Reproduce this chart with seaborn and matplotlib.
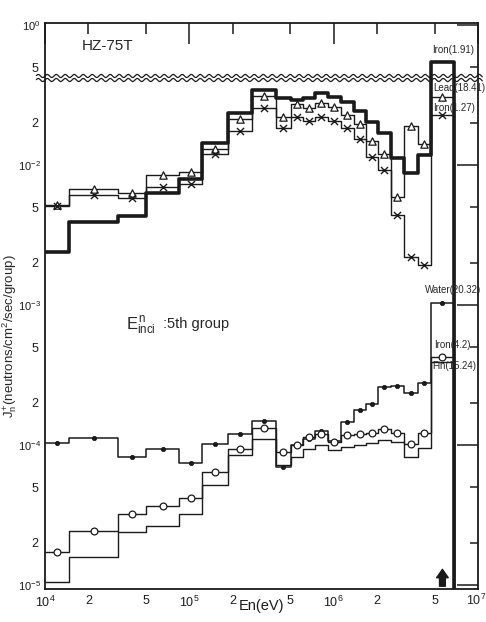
import numpy as np
import matplotlib
matplotlib.use("Agg")
import matplotlib.pyplot as plt
from matplotlib.ticker import FixedLocator, FixedFormatter
import seaborn as sns

# ---------------- data ----------------
# energy group boundaries (eV)
edges = [1.0e4, 1.47e4, 3.21e4, 5.02e4, 8.53e4, 1.23e5, 1.84e5, 2.70e5, 3.96e5,
         5.03e5, 6.09e5, 7.38e5, 9.08e5, 1.12e6, 1.38e6, 1.67e6, 2.02e6, 2.49e6,
         3.06e6, 3.83e6, 4.72e6, 6.81e6]

# upper group of spectra
iron_191 = [2.39e-3, 3.92e-3, 4.33e-3, 6.31e-3, 7.94e-3, 1.435e-2, 2.35e-2, 3.44e-2,
            3.01e-2, 2.91e-2, 3.01e-2, 3.27e-2, 3.06e-2, 2.82e-2, 2.43e-2, 2.03e-2,
            1.69e-2, 1.12e-2, 8.77e-3, 1.18e-2, 5.45e-1]
lead_1841 = [5.18e-3, 6.74e-3, 6.31e-3, 8.49e-3, 8.91e-3, 1.30e-2, 2.13e-2, 3.11e-2,
             2.20e-2, 2.73e-2, 2.55e-2, 2.77e-2, 2.60e-2, 2.28e-2, 1.96e-2, 1.48e-2,
             1.20e-2, 5.91e-3, 1.90e-2, 1.41e-2, 3.06e-2]
iron_127 = [5.09e-3, 6.10e-3, 5.81e-3, 6.97e-3, 7.32e-3, 1.20e-2, 1.75e-2, 2.55e-2,
            1.84e-2, 2.20e-2, 2.06e-2, 2.20e-2, 2.06e-2, 1.84e-2, 1.53e-2, 1.14e-2,
            9.21e-3, 4.40e-3, 2.20e-3, 1.93e-3, 2.28e-2]

# lower group of spectra
water_2032 = [1.033e-4, 1.122e-4, 8.21e-5, 9.36e-5, 7.44e-5, 1.017e-4, 1.20e-4, 1.48e-4,
              6.97e-5, 1.00e-4, 1.10e-4, 1.26e-4, 1.07e-4, 1.46e-4, 1.78e-4, 1.96e-4,
              2.60e-4, 2.64e-4, 2.35e-4, 2.77e-4, 1.03e-3]
iron_42 = [1.72e-5, 2.43e-5, 3.21e-5, 3.66e-5, 4.18e-5, 6.41e-5, 9.36e-5, 1.32e-4,
           8.91e-5, 1.00e-4, 1.14e-4, 1.20e-4, 1.05e-4, 1.18e-4, 1.20e-4, 1.22e-4,
           1.30e-4, 1.22e-4, 1.02e-4, 1.22e-4, 4.25e-4]
fin_1524 = [1.05e-5, 1.58e-5, 2.39e-5, 2.64e-5, 3.21e-5, 5.18e-5, 8.49e-5, 1.10e-4,
            7.19e-5, 8.21e-5, 9.36e-5, 1.00e-4, 9.21e-5, 9.68e-5, 1.00e-4, 1.03e-4,
            1.09e-4, 1.05e-4, 8.21e-5, 9.52e-5, 3.92e-4]

x_major = [1e4, 1e5, 1e6, 1e7]
x_major_labels = [r"$10^{4}$", r"$10^{5}$", r"$10^{6}$", ""]
x_last_label = r"$10^{7}$"
x_minor = [2e4, 5e4, 2e5, 5e5, 2e6, 5e6]
x_minor_labels = ["2", "5", "2", "5", "2", "5"]
y_major = [1e-5, 1e-4, 1e-3, 1e-2, 1e0]
y_major_labels = [r"$10^{-5}$", r"$10^{-4}$", r"$10^{-3}$", r"$10^{-2}$", r"$10^{0}$"]
y_minor = [2e-5, 5e-5, 2e-4, 5e-4, 2e-3, 5e-3, 2e-2, 5e-1]
y_minor_labels = ["2", "5", "2", "5", "2", "5", "2", "5"]

# ---------------- style ----------------
sns.set_theme(style="white")
plt.rcParams["font.family"] = ["Liberation Sans", "DejaVu Sans"]
plt.rcParams["mathtext.fontset"] = "custom"
plt.rcParams["mathtext.rm"] = "Liberation Sans"
plt.rcParams["mathtext.it"] = "Liberation Sans"
plt.rcParams["mathtext.bf"] = "Liberation Sans:bold"

W, H = 486, 622
fig, ax = plt.subplots(figsize=(W / 100, H / 100), dpi=100)
fig.subplots_adjust(left=45 / W, right=478 / W, bottom=1 - 589 / H, top=1 - 23 / H)

# broken log axis: one decade (0.042 .. 0.42) removed
BRK = -1.379
GAP = 1.0


def fwd(y):
    y = np.asarray(y, dtype=float)
    with np.errstate(divide="ignore", invalid="ignore"):
        L = np.log10(np.where(y > 0, y, 1e-300))
    return np.where(L >= BRK + GAP, L - GAP, np.minimum(L, BRK))


def inv(f):
    f = np.asarray(f, dtype=float)
    return np.where(f > BRK, 10 ** (f + GAP), 10 ** f)


ax.set_xscale("log")
ax.set_yscale("function", functions=(fwd, inv))

ybot = 10 ** (-5.029)
ytop = 10 ** (0.014)

centers = [np.sqrt(a * b) for a, b in zip(edges[:-1], edges[1:])]

series = [
    (iron_191, 2.6, None, {}),
    (lead_1841, 1.0, "^", dict(s=28, facecolor="white", edgecolor="k", linewidth=0.9)),
    (iron_127, 1.0, "x", dict(s=26, color="k", linewidth=1.0)),
    (water_2032, 1.1, "o", dict(s=10, color="k", edgecolor="k", linewidth=0.5)),
    (iron_42, 1.0, "o", dict(s=24, facecolor="white", edgecolor="k", linewidth=0.9)),
    (fin_1524, 1.0, None, {}),
]

for vals, lw, mk, mkw in series:
    yy = list(vals) + [vals[-1]]
    sns.lineplot(x=edges, y=yy, drawstyle="steps-post", color="k", lw=lw,
                 estimator=None, sort=False, ax=ax, legend=False)
    ax.vlines(edges[-1], ybot, vals[-1], colors="k", lw=lw)
    if mk is not None:
        sns.scatterplot(x=centers, y=vals, marker=mk, ax=ax, legend=False,
                        zorder=4, **mkw)

ax.set_xlim(edges[0], 1e7)
ax.set_ylim(ybot, ytop)

# ticks
ax.xaxis.set_major_locator(FixedLocator(x_major))
ax.xaxis.set_major_formatter(FixedFormatter(x_major_labels))
ax.xaxis.set_minor_locator(FixedLocator(x_minor))
ax.xaxis.set_minor_formatter(FixedFormatter(x_minor_labels))
ax.yaxis.set_major_locator(FixedLocator(y_major))
ax.yaxis.set_major_formatter(FixedFormatter(y_major_labels))
ax.yaxis.set_minor_locator(FixedLocator(y_minor))
ax.yaxis.set_minor_formatter(FixedFormatter(y_minor_labels))

ax.tick_params(which="both", direction="in", top=True, right=True,
               width=1.1, color="k", labelsize=9, labelcolor="k")
ax.tick_params(which="major", length=15)
ax.tick_params(axis="y", which="minor", length=6, pad=5)
ax.tick_params(axis="y", which="major", pad=3, labelsize=8)
ax.tick_params(axis="x", which="minor", length=8, pad=4)
ax.tick_params(axis="x", which="major", pad=4)

for sp in ax.spines.values():
    sp.set_color("k")
    sp.set_linewidth(1.3)

# wavy break lines
xw = np.linspace(-0.02, 1.01, 900)
for yc in (0.9064, 0.8993):
    yw = yc + 0.0027 * np.sin(2 * np.pi * xw * 433 / 9.0)
    ax.plot(xw, yw, color="k", lw=0.9, transform=ax.transAxes, clip_on=False)


def fp(x, y):
    return (x / W, 1 - y / H)


# axis labels
ax.set_xlabel("En(eV)", fontsize=10.5, color="k")
ax.xaxis.set_label_coords(0.499, -0.017)
fig.text(*fp(10, 336), r"$J^{+}_{n}$(neutrons/cm$^{2}$/sec/group)", fontsize=9.5,
         rotation=90, va="center", ha="center")
fig.text(*fp(476, 600), x_last_label, fontsize=9, va="center", ha="center")

fig.text(*fp(82, 46), "HZ-75T", fontsize=11, va="center", ha="left")
fig.text(*fp(126, 326), r"$E^{n}_{inci}$", fontsize=12, va="center", ha="left")
fig.text(*fp(163, 324), ":5th group", fontsize=10.5, va="center", ha="left")

lab_kw = dict(fontsize=7.0, va="center", ha="left")
fig.text(*fp(432, 50), "Iron(1.91)", **lab_kw)
fig.text(*fp(433, 88), "Lead(18.41)", **lab_kw)
fig.text(*fp(433, 108), "Iron(1.27)", **lab_kw)
fig.text(*fp(425, 290), "Water(20.32)", **lab_kw)
fig.text(*fp(434, 345), "Iron(4.2)", **lab_kw)
fig.text(*fp(432, 366), "Fin(15.24)", **lab_kw)

# incident-energy arrow
ax.annotate("", xy=(centers[-1], ybot * 10 ** 0.16), xytext=(centers[-1], ybot),
            arrowprops=dict(arrowstyle="simple,head_width=0.7,head_length=0.5,tail_width=0.35",
                            fc="k", ec="k"))

fig.savefig("out.png", dpi=100)
